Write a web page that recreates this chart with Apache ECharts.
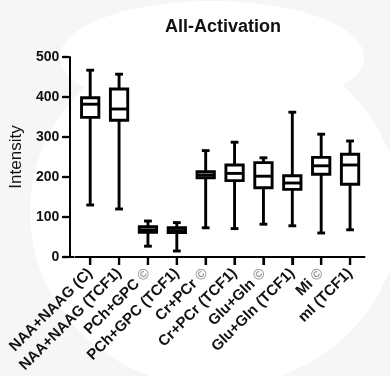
<!DOCTYPE html>
<html>
<head>
<meta charset="utf-8">
<script src="https://cdn.jsdelivr.net/npm/echarts@6/dist/echarts.min.js"></script>
<style>
  html, body { margin: 0; padding: 0; background: #fff; }
  #main { width: 390px; height: 376px; }
</style>
</head>
<body>
<div id="main"></div>
<script>
var categories = ['NAA+NAAG (C)', 'NAA+NAAG (TCF1)', 'PCh+GPC ©', 'PCh+GPC (TCF1)', 'Cr+PCr ©',
  'Cr+PCr (TCF1)', 'Glu+Gln ©', 'Glu+Gln (TCF1)', 'Mi ©', 'mI (TCF1)'];
var mins    = [130, 120, 27, 15, 73, 71, 82, 78, 60, 68];
var q1s     = [349, 342, 62, 61, 198, 191, 173, 169, 207, 182];
var medians = [382, 370, 68, 66, 205, 209, 202, 185, 228, 230];
var q3s     = [398, 420, 76, 73, 213, 230, 236, 203, 249, 257];
var maxs    = [467, 457, 90, 86, 266, 287, 248, 362, 307, 290];
var yTicks  = [0, 100, 200, 300, 400, 500];

var boxData = categories.map(function (c, i) {
  return [i, mins[i], q1s[i], medians[i], q3s[i], maxs[i]];
});

var FONT = 'Liberation Sans, Arial, sans-serif';
var gridLeft = 74.5, gridTop = 57, gridBottom = 119, yOffset = 6.5;
var chart = echarts.init(document.getElementById('main'));

function renderBox(params, api) {
  var x = api.value(0);
  var lo = api.coord([x, api.value(1)]);
  var q1 = api.coord([x, api.value(2)]);
  var md = api.coord([x, api.value(3)]);
  var q3 = api.coord([x, api.value(4)]);
  var hi = api.coord([x, api.value(5)]);
  var bw = api.size([1, 0])[0] * 0.6;
  var cw = bw * 0.45;
  var cx = lo[0];
  var st = { stroke: '#000', lineWidth: 2.9, fill: null };
  return {
    type: 'group',
    children: [
      { type: 'line', shape: { x1: cx, y1: hi[1], x2: cx, y2: q3[1] }, style: st },
      { type: 'line', shape: { x1: cx, y1: q1[1], x2: cx, y2: lo[1] }, style: st },
      { type: 'line', shape: { x1: cx - cw / 2, y1: hi[1], x2: cx + cw / 2, y2: hi[1] }, style: st },
      { type: 'line', shape: { x1: cx - cw / 2, y1: lo[1], x2: cx + cw / 2, y2: lo[1] }, style: st },
      { type: 'rect', shape: { x: cx - bw / 2, y: q3[1], width: bw, height: q1[1] - q3[1] },
        style: { stroke: '#000', lineWidth: 2.9, fill: '#fff' } },
      { type: 'line', shape: { x1: cx - bw / 2, y1: md[1], x2: cx + bw / 2, y2: md[1] }, style: st }
    ]
  };
}

// faint watermark behind the chart
var bgShapes = [
  { type: 'ellipse', silent: true, z: -10, shape: { cx: 215, cy: 212, rx: 185, ry: 175 }, style: { fill: '#fff' } },
  { type: 'ellipse', silent: true, z: -10, shape: { cx: 212, cy: 57, rx: 152, ry: 56 }, style: { fill: '#fff' } }
];

var option = {
  backgroundColor: '#f6f6f6',
  title: {
    text: 'All-Activation',
    left: 218, top: 13, textAlign: 'center',
    textStyle: { fontFamily: FONT, fontWeight: 'bold', fontSize: 18, color: '#111' }
  },
  grid: { left: gridLeft, right: 25.5, top: gridTop, bottom: gridBottom },
  xAxis: {
    type: 'category',
    data: categories,
    axisLine: { lineStyle: { color: '#000', width: 2 } },
    axisTick: { show: true, inside: false, alignWithLabel: true, length: 8, lineStyle: { color: '#000', width: 2.2 } },
    axisLabel: {
      rotate: 45, interval: 0, margin: 14,
      fontFamily: FONT, fontWeight: 'bold', fontSize: 15, color: '#111',
      formatter: function (v) { return v.replace('©', '{c|©}'); },
      rich: { c: { color: '#999', fontFamily: FONT, fontSize: 15 } }
    },
    splitLine: { show: false }
  },
  yAxis: {
    type: 'value',
    min: 0, max: 500, interval: 100,
    offset: yOffset,
    name: 'Intensity',
    nameLocation: 'middle',
    nameGap: 41,
    nameTextStyle: { fontFamily: FONT, fontSize: 17, color: '#111' },
    axisLine: { show: true, lineStyle: { color: '#000', width: 2 } },
    axisTick: { show: true, inside: false, length: 6, lineStyle: { color: '#000', width: 2.2 } },
    axisLabel: {
      margin: 10,
      fontFamily: FONT, fontWeight: 'bold', fontSize: 14, color: '#111',
      formatter: function (v) { return yTicks.indexOf(v) >= 0 ? String(v) : ''; }
    },
    splitLine: { show: false }
  },
  graphic: bgShapes,
  series: [{
    type: 'custom',
    renderItem: renderBox,
    data: boxData,
    encode: { x: 0, y: [1, 2, 3, 4, 5] },
    z: 5
  }]
};

chart.setOption(option);

// tick marks placed through the axes' own scales
var axisX = gridLeft - yOffset;
var axisY = chart.convertToPixel({ yAxisIndex: 0 }, 0);
var tickEls = [
  { type: 'line', z: 10, shape: { x1: axisX - 1, y1: axisY, x2: gridLeft, y2: axisY }, style: { stroke: '#000', lineWidth: 2 } }
];
yTicks.forEach(function (v) {
  var py = chart.convertToPixel({ yAxisIndex: 0 }, v);
  tickEls.push({ type: 'line', z: 10, shape: { x1: axisX - 6, y1: py, x2: axisX, y2: py }, style: { stroke: '#000', lineWidth: 2.2 } });
});
categories.forEach(function (c, i) {
  var px = chart.convertToPixel({ xAxisIndex: 0 }, i);
  tickEls.push({ type: 'line', z: 10, shape: { x1: px, y1: axisY, x2: px, y2: axisY + 8 }, style: { stroke: '#000', lineWidth: 2.2 } });
});
chart.setOption({ graphic: bgShapes.concat(tickEls) });
</script>
</body>
</html>
